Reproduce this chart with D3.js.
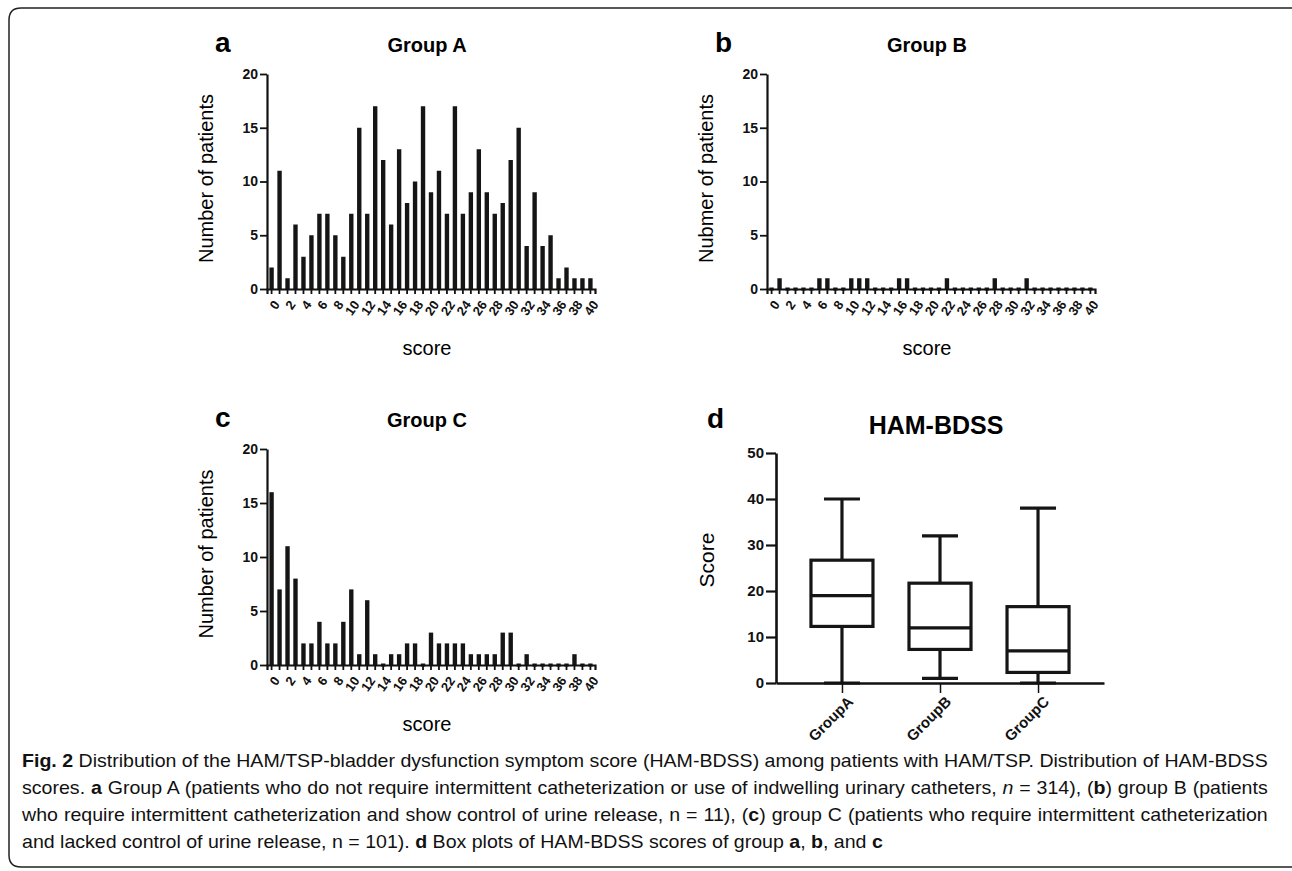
<!DOCTYPE html>
<html>
<head>
<meta charset="utf-8">
<script src="https://d3js.org/d3.v7.min.js"></script>
<style>
body { margin: 0; background: #fff; }
svg { display: block; font-family: "Liberation Sans", Arial, sans-serif; }
.axis path, .axis line { stroke: #111; }
.axis text { font-weight: bold; fill: #111; }
.cap { font-family: "Liberation Sans Narrow", "Liberation Sans", sans-serif; font-size: 18px; fill: #111; }
</style>
</head>
<body>
<div id="chart"></div>
<script>

// score categories (x axis of the histograms)
var scores = [0,1,2,3,4,5,6,7,8,9,10,11,12,13,14,15,16,17,18,19,20,
              21,22,23,24,25,26,27,28,29,30,31,32,33,34,35,36,37,38,39,40];

// number of patients per score
var groupA = [2,11,1,6,3,5,7,7,5,3,7,15,7,17,12,6,13,8,10,17,9,
              11,7,17,7,9,13,9,7,8,12,15,4,9,4,5,1,2,1,1,1];
var groupB = [0,1,0,0,0,0,1,1,0,0,1,1,1,0,0,0,1,1,0,0,0,
              0,1,0,0,0,0,0,1,0,0,0,1,0,0,0,0,0,0,0,0];
var groupC = [16,7,11,8,2,2,4,2,2,4,7,1,6,1,0,1,1,2,2,0,3,
              2,2,2,2,1,1,1,1,3,3,0,1,0,0,0,0,0,1,0,0];

var countTicks = [0,5,10,15,20];

// box plot summary (panel d)
var boxGroups = ["GroupA","GroupB","GroupC"];
var boxMin    = [0, 1, 0];
var boxQ1     = [12.3, 7.3, 2.3];
var boxMedian = [19, 12, 7];
var boxQ3     = [26.7, 21.7, 16.6];
var boxMax    = [40, 32, 38];
var scoreTicks = [0,10,20,30,40,50];

var width = 1292, height = 871;

var svg = d3.select("#chart").append("svg")
  .attr("width", width)
  .attr("height", height);

// rounded frame
svg.append("path")
  .attr("d", "M1300,8 H21 Q9,8 9,20 V855 Q9,867 21,867 H1300")
  .attr("fill", "none")
  .attr("stroke", "#222")
  .attr("stroke-width", 1.5);

function histogram(values, left, top, bottom, letter, title, ylabel) {
  var w = 328;
  var x = d3.scaleBand().domain(scores).range([left, left + w])
    .paddingInner(0.45).paddingOuter(0.3);
  var y = d3.scaleLinear().domain([0, 20]).range([bottom, top]);

  var g = svg.append("g");

  g.selectAll("rect.bar")
    .data(values)
    .enter().append("rect")
    .attr("class", "bar")
    .attr("x", function(d, i) { return x(scores[i]); })
    .attr("width", x.bandwidth())
    .attr("y", function(d) { return d > 0 ? y(d) : y(0) - 1.5; })
    .attr("height", function(d) { return d > 0 ? y(0) - y(d) : 3; })
    .attr("fill", "#151515");

  var xa = g.append("g").attr("class", "axis")
    .attr("transform", "translate(0," + bottom + ")")
    .call(d3.axisBottom(x)
      .tickSizeOuter(0).tickSize(5)
      .tickFormat(function(d) { return d % 2 == 0 ? d : ""; }));
  xa.select(".domain").attr("stroke-width", 2.2);
  xa.selectAll(".tick line").attr("stroke-width", 1.8);
  xa.selectAll("text")
    .style("font-size", "13px")
    .attr("y", 0).attr("dy", "0.35em")
    .attr("text-anchor", "end")
    .attr("transform", "translate(5,13) rotate(-55)");

  var ya = g.append("g").attr("class", "axis")
    .attr("transform", "translate(" + left + ",0)")
    .call(d3.axisLeft(y).tickValues(countTicks).tickSize(7).tickSizeOuter(0));
  ya.select(".domain").attr("stroke-width", 2.2);
  ya.selectAll(".tick line").attr("stroke-width", 1.8);
  ya.selectAll("text").style("font-size", "14px").attr("x", -9);

  svg.append("text")
    .attr("x", left - 52).attr("y", top - 22)
    .style("font-size", "28px").style("font-weight", "bold")
    .text(letter);

  svg.append("text")
    .attr("x", left + w / 2 - 4).attr("y", top - 22)
    .attr("text-anchor", "middle")
    .style("font-size", "20px").style("font-weight", "bold")
    .text(title);

  svg.append("text")
    .attr("transform", "translate(" + (left - 54) + "," + ((top + bottom) / 2 - 3) + ") rotate(-90)")
    .attr("text-anchor", "middle")
    .style("font-size", "20px")
    .text(ylabel);

  svg.append("text")
    .attr("x", left + w / 2 - 4).attr("y", bottom + 66)
    .attr("text-anchor", "middle")
    .style("font-size", "20px")
    .text("score");
}

histogram(groupA, 267, 74, 289, "a", "Group A", "Number of patients");
histogram(groupB, 767, 74, 289, "b", "Group B", "Nubmer of patients");
histogram(groupC, 267, 449, 665, "c", "Group C", "Number of patients");

// panel d - box plots
(function() {
  var left = 776, top = 453, bottom = 683;
  var x = d3.scalePoint().domain(boxGroups).range([left, 1104]).padding(0.673);
  var y = d3.scaleLinear().domain([0, 50]).range([bottom, top]);
  var bw = 62, cap = 36;

  var g = svg.append("g");
  var rows = boxGroups.map(function(k, i) {
    return {k: k, lo: boxMin[i], q1: boxQ1[i], med: boxMedian[i], q3: boxQ3[i], hi: boxMax[i]};
  });

  var b = g.selectAll("g.box").data(rows).enter().append("g")
    .attr("stroke", "#151515").attr("stroke-width", 3.2).attr("fill", "none");

  b.append("line")
    .attr("x1", function(d) { return x(d.k); }).attr("x2", function(d) { return x(d.k); })
    .attr("y1", function(d) { return y(d.hi); }).attr("y2", function(d) { return y(d.q3); });
  b.append("line")
    .attr("x1", function(d) { return x(d.k); }).attr("x2", function(d) { return x(d.k); })
    .attr("y1", function(d) { return y(d.q1); }).attr("y2", function(d) { return y(d.lo); });
  b.append("line")
    .attr("x1", function(d) { return x(d.k) - cap / 2; }).attr("x2", function(d) { return x(d.k) + cap / 2; })
    .attr("y1", function(d) { return y(d.hi); }).attr("y2", function(d) { return y(d.hi); });
  b.append("line")
    .attr("x1", function(d) { return x(d.k) - cap / 2; }).attr("x2", function(d) { return x(d.k) + cap / 2; })
    .attr("y1", function(d) { return y(d.lo); }).attr("y2", function(d) { return y(d.lo); });
  b.append("rect")
    .attr("x", function(d) { return x(d.k) - bw / 2; })
    .attr("width", bw)
    .attr("y", function(d) { return y(d.q3); })
    .attr("height", function(d) { return y(d.q1) - y(d.q3); })
    .attr("fill", "#fff");
  b.append("line")
    .attr("x1", function(d) { return x(d.k) - bw / 2; }).attr("x2", function(d) { return x(d.k) + bw / 2; })
    .attr("y1", function(d) { return y(d.med); }).attr("y2", function(d) { return y(d.med); });

  var xa = g.append("g").attr("class", "axis")
    .attr("transform", "translate(0," + bottom + ")")
    .call(d3.axisBottom(x).tickSize(10).tickSizeOuter(0));
  xa.select(".domain").attr("stroke-width", 2.6);
  xa.selectAll(".tick line").attr("stroke-width", 1.5);
  xa.selectAll("text")
    .style("font-size", "15px")
    .attr("y", 0).attr("dy", "0.35em")
    .attr("text-anchor", "end")
    .attr("transform", "translate(8,16) rotate(-45)");

  var ya = g.append("g").attr("class", "axis")
    .attr("transform", "translate(" + left + ",0)")
    .call(d3.axisLeft(y).tickValues(scoreTicks).tickSize(10).tickSizeOuter(0));
  ya.select(".domain").attr("stroke-width", 2.6);
  ya.selectAll(".tick line").attr("stroke-width", 2.2);
  ya.selectAll("text").style("font-size", "15px").attr("x", -12);

  svg.append("text")
    .attr("x", 707).attr("y", 428)
    .style("font-size", "28px").style("font-weight", "bold")
    .text("d");
  svg.append("text")
    .attr("x", 936).attr("y", 434)
    .attr("text-anchor", "middle")
    .style("font-size", "25px").style("font-weight", "bold")
    .text("HAM-BDSS");
  svg.append("text")
    .attr("transform", "translate(714,560) rotate(-90)")
    .attr("text-anchor", "middle")
    .style("font-size", "21px")
    .text("Score");
})();

// caption (lines 1-3 justified, last line natural width)
var caption = [
  [["Fig. 2", "b"], [" Distribution of the HAM/TSP-bladder dysfunction symptom score (HAM-BDSS) among patients with HAM/TSP. Distribution of HAM-BDSS", ""]],
  [["scores. ", ""], ["a", "b"], [" Group A (patients who do not require intermittent catheterization or use of indwelling urinary catheters, ", ""], ["n", "i"], [" = 314), (", ""], ["b", "b"], [") group B (patients", ""]],
  [["who require intermittent catheterization and show control of urine release, n = 11), (", ""], ["c", "b"], [") group C (patients who require intermittent catheterization", ""]],
  [["and lacked control of urine release, n = 101). ", ""], ["d", "b"], [" Box plots of HAM-BDSS scores of group ", ""], ["a", "b"], [", ", ""], ["b", "b"], [", and ", ""], ["c", "b"]]
];
var capLeft = 22, capRight = 1268;

var capTexts = caption.map(function(line, i) {
  var t = svg.append("text").attr("class", "cap")
    .attr("x", 0).attr("y", 0);
  line.forEach(function(p) {
    var s = t.append("tspan").text(p[0]);
    if (p[1] == "b") s.style("font-weight", "bold");
    if (p[1] == "i") s.style("font-style", "italic");
  });
  return t;
});

// one horizontal scale for the font, taken from the longest full line
var widths = capTexts.map(function(t) { return t.node().getComputedTextLength(); });
var kx = (capRight - capLeft) / d3.max(widths.slice(0, 3));

capTexts.forEach(function(t, i) {
  if (i < 3) {
    var txt = caption[i].map(function(p) { return p[0]; }).join("");
    var nSpaces = txt.split(" ").length - 1;
    var extra = ((capRight - capLeft) / kx - widths[i]) / nSpaces;
    t.style("word-spacing", extra + "px");
  }
  t.attr("transform", "translate(" + capLeft + "," + (767 + i * 27) + ") scale(" + kx + ",1)");
});

</script>
</body>
</html>
